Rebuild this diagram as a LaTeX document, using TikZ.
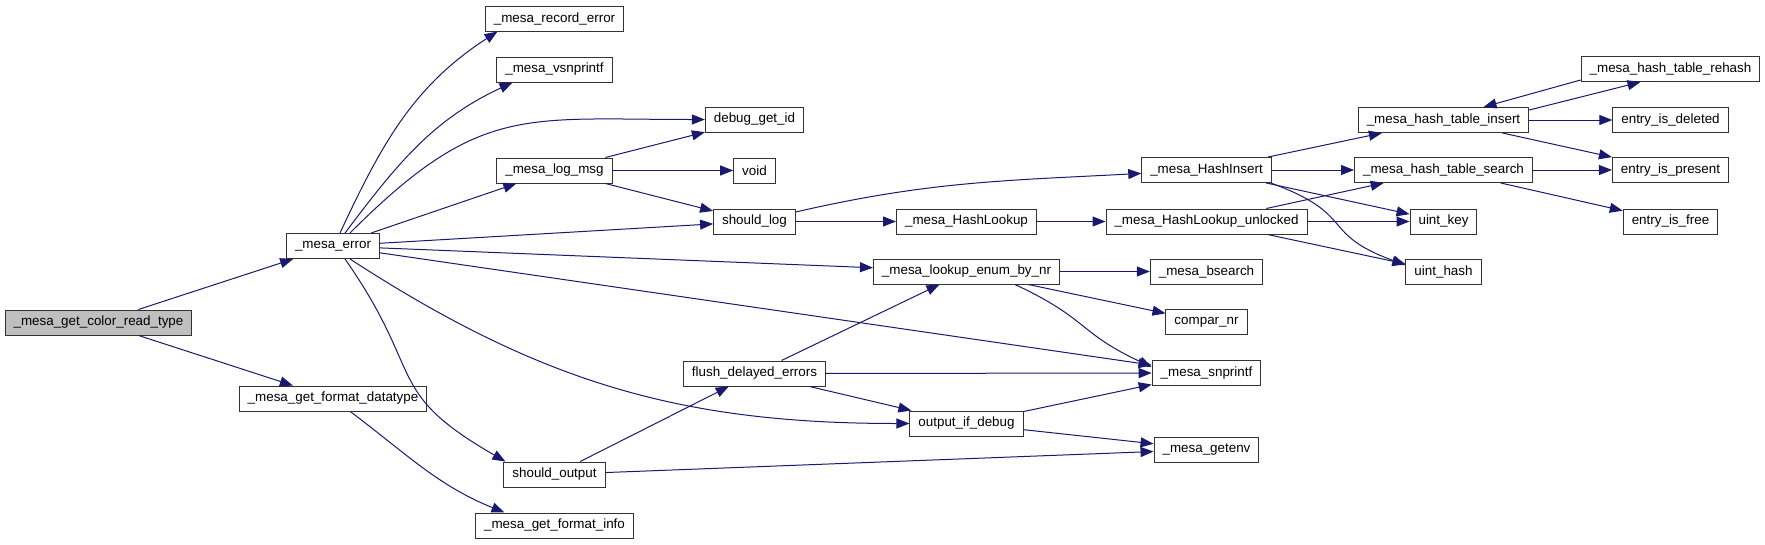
\documentclass[tikz,border=0pt]{standalone}
\usepackage{fontspec}
\setmainfont{Liberation Sans}
\usepackage{tikz}
\usetikzlibrary{positioning,arrows.meta}
\definecolor{callblue}{RGB}{25,25,112}

\begin{document}
\begin{tikzpicture}[
  x=1pt, y=1pt, on grid,
  fn/.style={draw=black!80, line width=1pt, fill=white, font=\fontsize{13.4pt}{16pt}\selectfont, minimum height=25pt, inner xsep=8.5pt, inner ysep=0pt},
  root/.style={fn, fill=gray!50},
  call/.style={draw=callblue, line width=1pt, -{Triangle[length=13pt,width=10pt]}},
]
  \useasboundingbox (0,0) rectangle (1765,-544);

  % Caller
  \node[root] (root) at (98.5,-322.5) {\_mesa\_get\_color\_read\_type};
  \node[fn, above right=76.5pt and 234.5pt of root] (err) {\_mesa\_error};
  \node[fn, below right=76pt and 234.5pt of root] (fmtdt) {\_mesa\_get\_format\_datatype};

  % Third column
  \node[fn, above right=227.5pt and 221.5pt of err] (rec) {\_mesa\_record\_error};
  \node[fn, below=51pt of rec] (vsn) {\_mesa\_vsnprintf};
  \node[fn, below=101pt of vsn] (logmsg) {\_mesa\_log\_msg};
  \node[fn, below right=228.5pt and 221.5pt of err] (sout) {should\_output};
  \node[fn, below=51pt of sout] (fmtinfo) {\_mesa\_get\_format\_info};

  % Fourth column
  \node[fn, above right=51pt and 200pt of logmsg] (dbg) {debug\_get\_id};
  \node[fn, right=200pt of logmsg] (voidfn) {void};
  \node[fn, below right=51pt and 200pt of logmsg] (shlog) {should\_log};
  \node[fn, above right=101pt and 200pt of sout] (flush) {flush\_delayed\_errors};

  % Fifth column
  \node[fn, right=212pt of shlog] (hlook) {\_mesa\_HashLookup};
  \node[fn, below=50pt of hlook] (lenum) {\_mesa\_lookup\_enum\_by\_nr};
  \node[fn, below right=50pt and 212pt of flush] (oid) {output\_if\_debug};

  % Sixth column
  \node[fn, above right=51.5pt and 240pt of hlook] (hins) {\_mesa\_HashInsert};
  \node[fn, right=240pt of hlook] (hlu) {\_mesa\_HashLookup\_unlocked};
  \node[fn, right=240pt of lenum] (bsr) {\_mesa\_bsearch};
  \node[fn, below=50.5pt of bsr] (cnr) {compar\_nr};
  \node[fn, below=51pt of cnr] (snp) {\_mesa\_snprintf};
  \node[fn, below=76.5pt of snp] (genv) {\_mesa\_getenv};

  % Hash table helpers
  \node[fn, right=237pt of hins] (hts) {\_mesa\_hash\_table\_search};
  \node[fn, above=50pt of hts] (hti) {\_mesa\_hash\_table\_insert};
  \node[fn, right=237pt of hlu] (ukey) {uint\_key};
  \node[fn, below=50.5pt of ukey] (uhash) {uint\_hash};
  \node[fn, right=227pt of hti] (eid) {entry\_is\_deleted};
  \node[fn, above=51pt of eid] (reh) {\_mesa\_hash\_table\_rehash};
  \node[fn, right=227pt of hts] (eip) {entry\_is\_present};
  \node[fn, right=227pt of ukey] (eif) {entry\_is\_free};

  % Calls from the caller
  \draw[call] (root) -- (err);
  \draw[call] (root) -- (fmtdt);
  \draw[call] (fmtdt) to[out=-37, in=158] ([xshift=-50pt]fmtinfo.north);

  % Calls from _mesa_error
  \draw[call] ([xshift=7pt]err.north) to[out=65, in=213] ([xshift=-57pt]rec.south);
  \draw[call] ([xshift=12pt]err.north) to[out=53, in=205] ([xshift=-42pt]vsn.south);
  \draw[call] ([xshift=17pt]err.north) to[out=45, in=180, looseness=1.25] (dbg.west);
  \draw[call] (err) -- (logmsg);
  \draw[call] (err) -- (shlog);
  \draw[call] (err) -- (lenum);
  \draw[call] (err) -- (snp);
  \draw[call] ([xshift=17pt]err.south) to[out=-33, in=180] (oid.west);
  \draw[call] ([xshift=12pt]err.south) to[out=-55, in=150, looseness=1.4] ([xshift=2pt]sout.north west);

  % Logging
  \draw[call] (logmsg) -- (dbg);
  \draw[call] (logmsg) -- (voidfn);
  \draw[call] (logmsg) -- (shlog);
  \draw[call] (shlog) to[out=13, in=183] (hins);
  \draw[call] (shlog) -- (hlook);
  \draw[call] (hlook) -- (hlu);

  % Hash table
  \draw[call] (hins) -- (hti);
  \draw[call] (hins) -- (hts);
  \draw[call] (hins) -- (ukey);
  \draw[call] ([xshift=-1pt]hins.south east) to[out=-20, in=160, looseness=1.5] ([yshift=7pt]uhash.west);
  \draw[call] (hlu) -- (hts);
  \draw[call] (hlu) -- (ukey);
  \draw[call] (hlu) -- (uhash);
  \draw[call] ([yshift=10pt]hti.east) -- ([xshift=-30pt]reh.south);
  \draw[call] ([yshift=-11pt]reh.west) -- ([xshift=40pt]hti.north);
  \draw[call] (hti) -- (eid);
  \draw[call] (hti) -- (eip);
  \draw[call] (hts) -- (eip);
  \draw[call] (hts) -- (eif);

  % Enum lookup and output
  \draw[call] (lenum) -- (bsr);
  \draw[call] (lenum) -- (cnr);
  \draw[call] ([xshift=48.5pt]lenum.south) to[out=-25, in=155, looseness=1.3] ([yshift=6pt]snp.west);
  \draw[call] (flush) -- (lenum);
  \draw[call] (flush) -- (snp);
  \draw[call] (flush) -- (oid);
  \draw[call] (oid) -- (snp);
  \draw[call] (oid) -- (genv);
  \draw[call] (sout) -- (flush);
  \draw[call] (sout) -- (genv);
\end{tikzpicture}
\end{document}
